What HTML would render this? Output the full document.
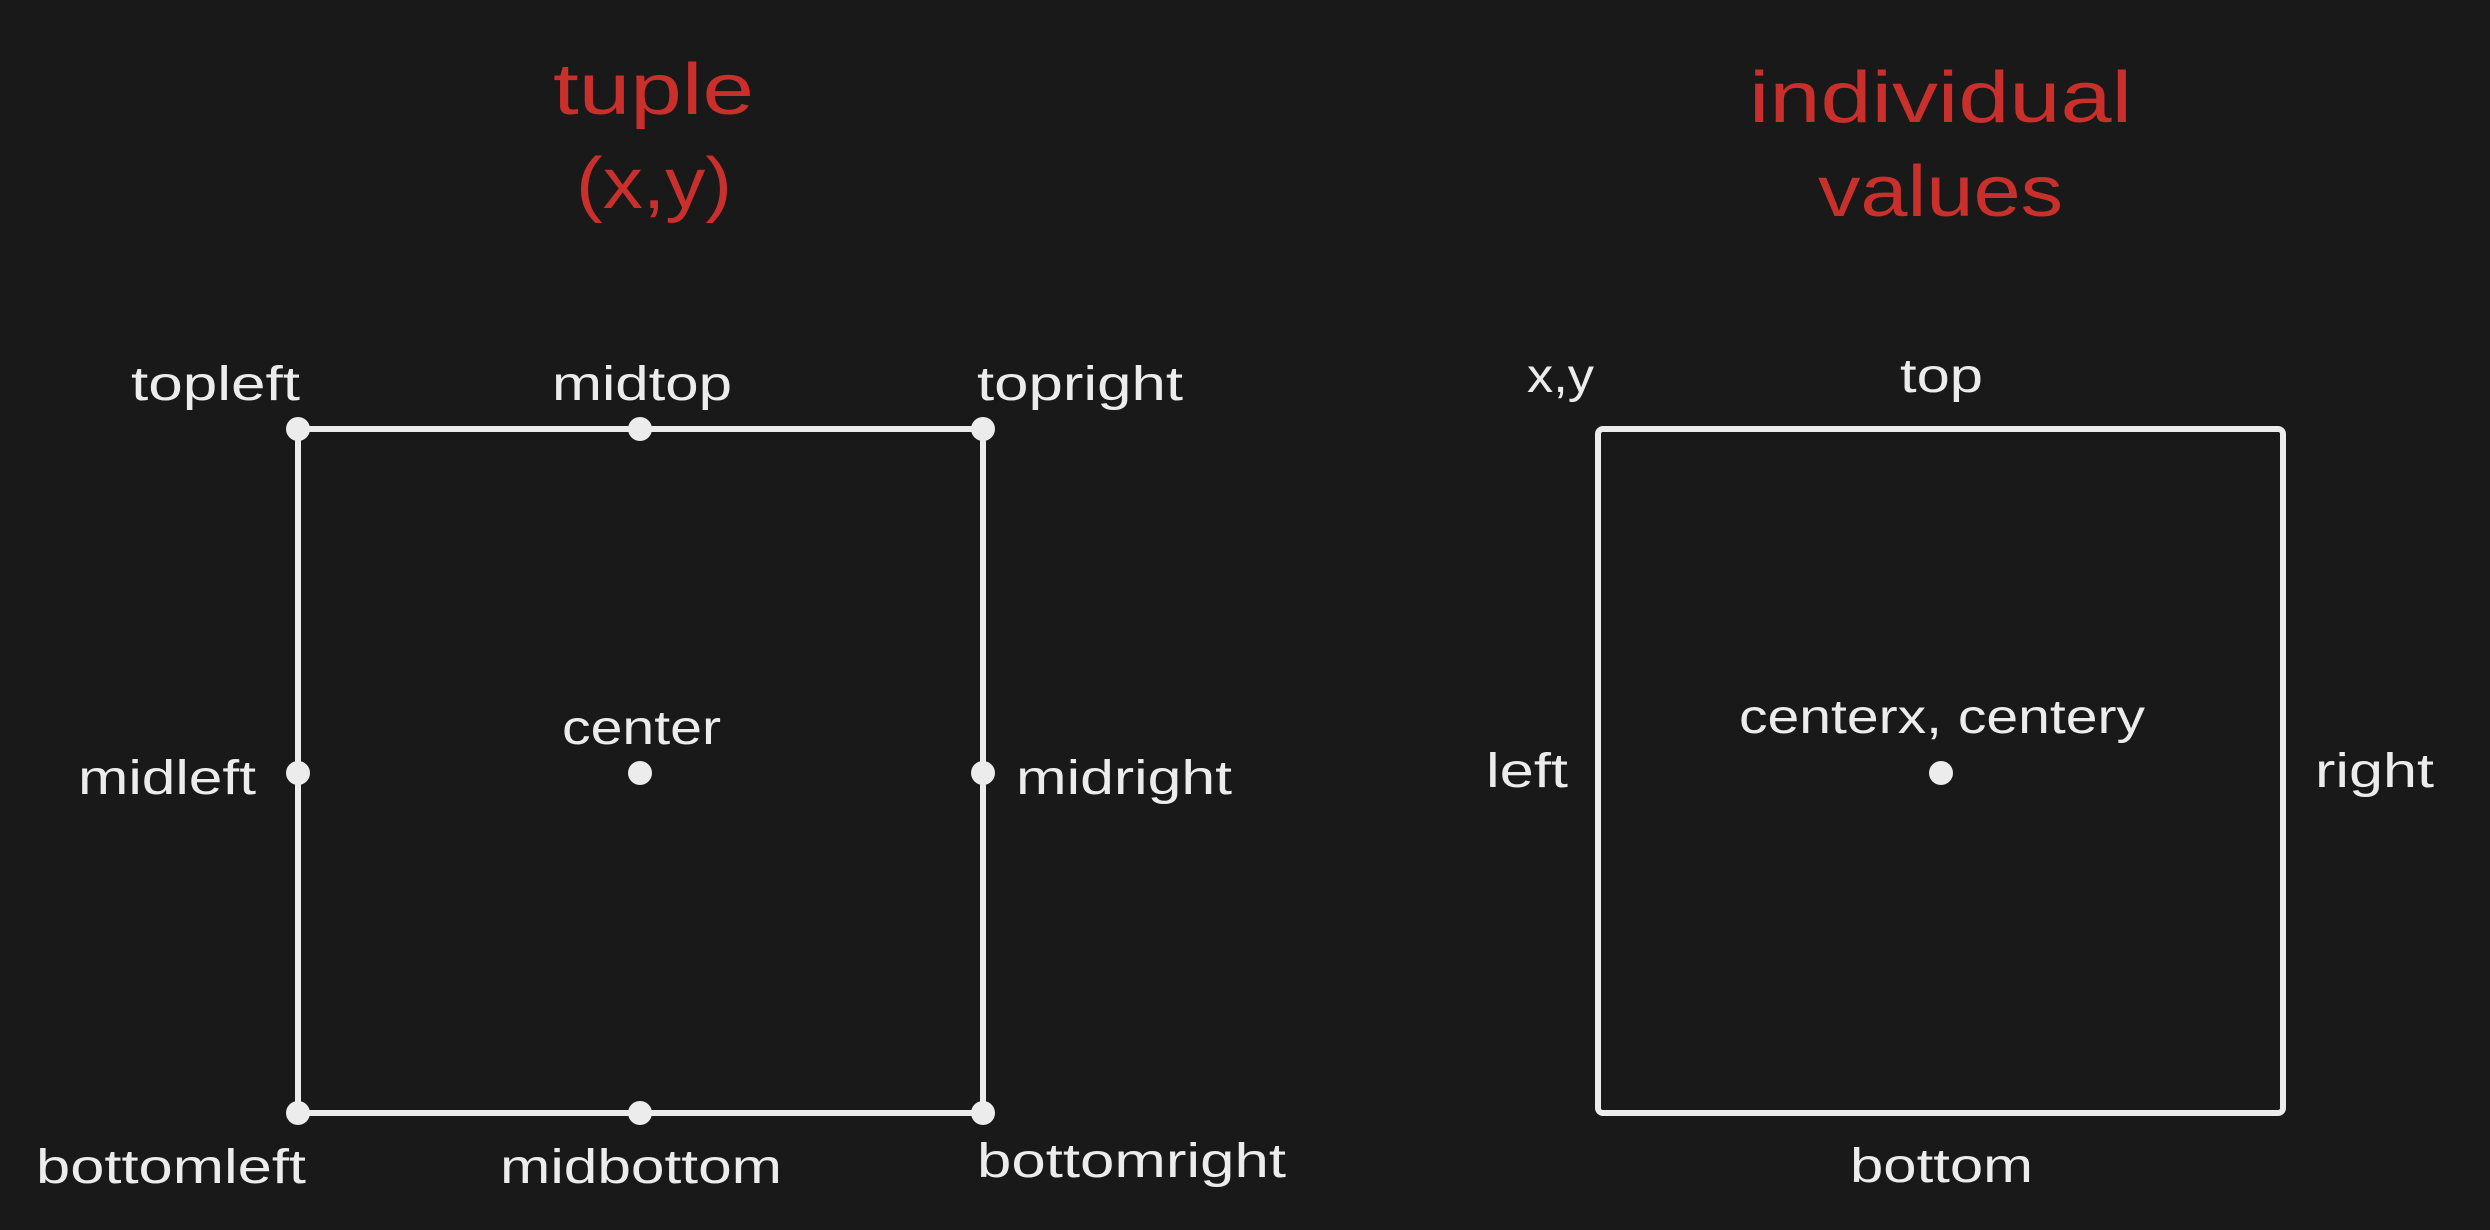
<!DOCTYPE html>
<html><head><meta charset="utf-8"><style>
html,body{margin:0;padding:0;background:#191919;}
svg{display:block;}
text{font-family:"Liberation Sans",sans-serif;fill:#ececec;}
.t{fill:#c9302c;font-size:72px;}
.l{font-size:48px;}
</style></head><body>
<svg width="2490" height="1230" viewBox="0 0 2490 1230" xmlns="http://www.w3.org/2000/svg">
<rect width="2490" height="1230" fill="#191919"/>
<rect x="298" y="429" width="685" height="684" fill="none" stroke="#ececec" stroke-width="6"/>
<g fill="#ececec">
<circle cx="298" cy="429" r="12"/><circle cx="640" cy="429" r="12"/><circle cx="983" cy="429" r="12"/>
<circle cx="298" cy="773" r="12"/><circle cx="640" cy="773" r="12"/><circle cx="983" cy="773" r="12"/>
<circle cx="298" cy="1113" r="12"/><circle cx="640" cy="1113" r="12"/><circle cx="983" cy="1113" r="12"/>
<circle cx="1941" cy="773" r="12"/>
</g>
<rect x="1598" y="429" width="685" height="684" rx="5" fill="none" stroke="#ececec" stroke-width="6"/>
<text class="t" x="553" y="114" textLength="201" lengthAdjust="spacingAndGlyphs">tuple</text>
<text class="t" x="576" y="208" textLength="156" lengthAdjust="spacingAndGlyphs">(x,y)</text>
<text class="t" x="1749" y="122" textLength="383" lengthAdjust="spacingAndGlyphs">individual</text>
<text class="t" x="1818" y="216" textLength="245" lengthAdjust="spacingAndGlyphs">values</text>
<text class="l" x="131" y="400" textLength="169" lengthAdjust="spacingAndGlyphs">topleft</text>
<text class="l" x="552" y="400" textLength="180" lengthAdjust="spacingAndGlyphs">midtop</text>
<text class="l" x="977" y="400" textLength="206" lengthAdjust="spacingAndGlyphs">topright</text>
<text class="l" x="562" y="744" textLength="159" lengthAdjust="spacingAndGlyphs">center</text>
<text class="l" x="78" y="794" textLength="178" lengthAdjust="spacingAndGlyphs">midleft</text>
<text class="l" x="1016" y="794" textLength="216" lengthAdjust="spacingAndGlyphs">midright</text>
<text class="l" x="36" y="1183" textLength="270" lengthAdjust="spacingAndGlyphs">bottomleft</text>
<text class="l" x="500" y="1183" textLength="282" lengthAdjust="spacingAndGlyphs">midbottom</text>
<text class="l" x="977" y="1177" textLength="309" lengthAdjust="spacingAndGlyphs">bottomright</text>
<text class="l" x="1527" y="392" textLength="67" lengthAdjust="spacingAndGlyphs">x,y</text>
<text class="l" x="1900" y="392" textLength="83" lengthAdjust="spacingAndGlyphs">top</text>
<text class="l" x="1739" y="733" textLength="406" lengthAdjust="spacingAndGlyphs">centerx, centery</text>
<text class="l" x="1486" y="787" textLength="82" lengthAdjust="spacingAndGlyphs">left</text>
<text class="l" x="2315" y="787" textLength="119" lengthAdjust="spacingAndGlyphs">right</text>
<text class="l" x="1850" y="1182" textLength="183" lengthAdjust="spacingAndGlyphs">bottom</text>
</svg>
</body></html>
